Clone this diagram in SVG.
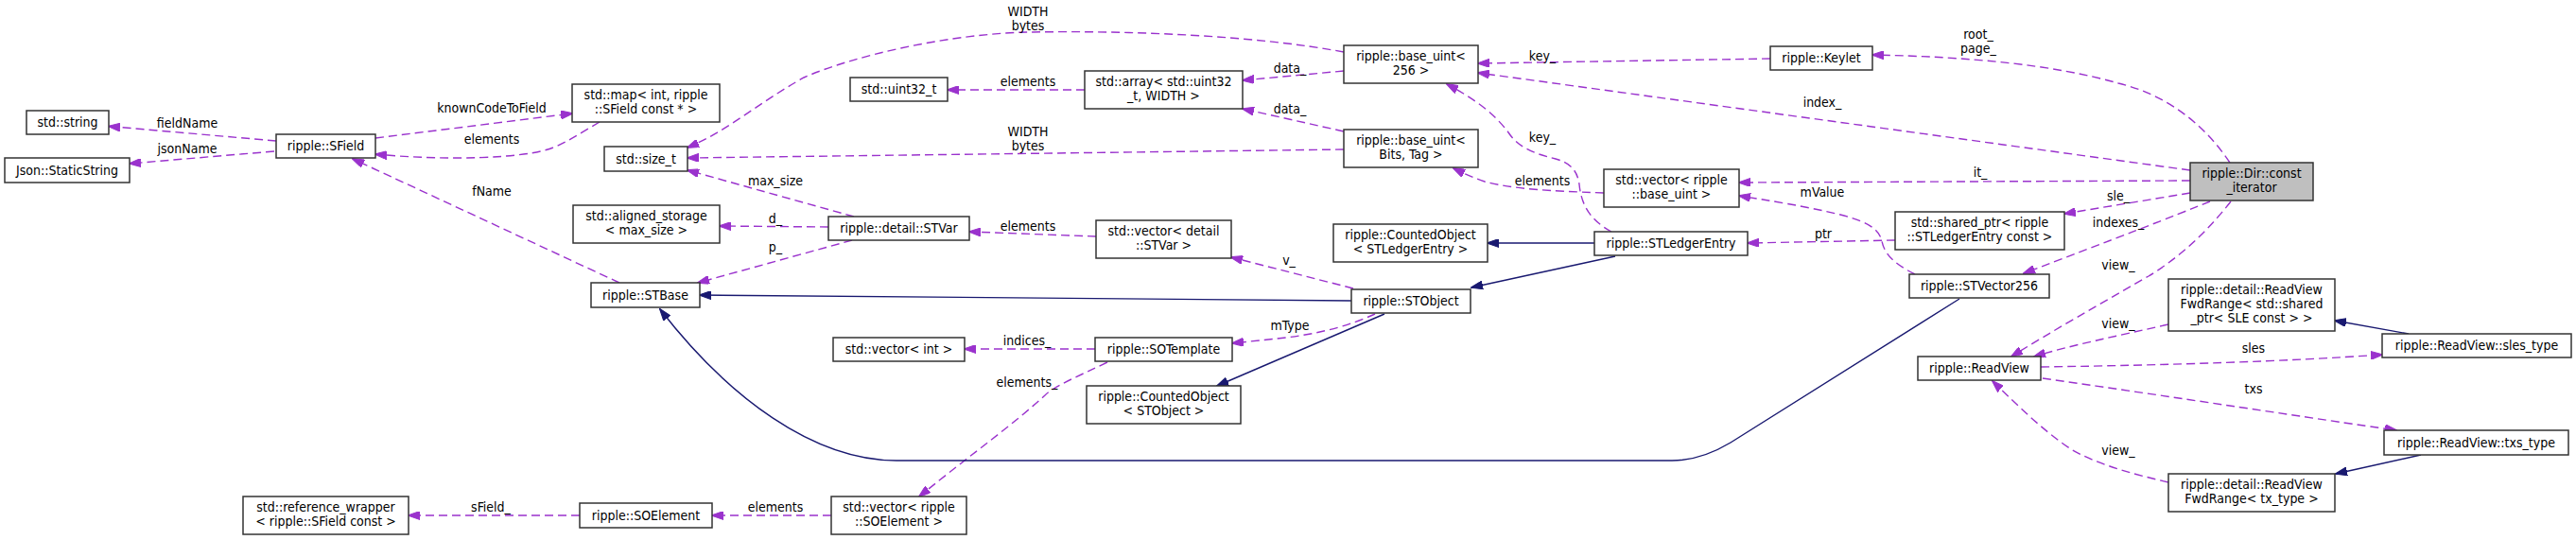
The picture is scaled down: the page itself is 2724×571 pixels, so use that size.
<svg xmlns="http://www.w3.org/2000/svg" width="2724" height="571" viewBox="0 0 2724 571">
<style>
text{font-family:'DejaVu Sans Condensed','Liberation Sans',sans-serif;font-size:14px;fill:#000;text-anchor:middle}
.box{fill:#fff;stroke:#333;stroke-width:1.5}
.root{fill:#bfbfbf;stroke:#333;stroke-width:1.5}
.u{fill:none;stroke:#9a32cd;stroke-width:1.4;stroke-dasharray:9,5;marker-end:url(#ap)}
.i{fill:none;stroke:#191970;stroke-width:1.4;marker-end:url(#ab)}
</style>
<defs>
<marker id="ap" viewBox="0 0 13 9" refX="12" refY="4.5" markerWidth="13" markerHeight="9" markerUnits="userSpaceOnUse" orient="auto"><path d="M0,0 L13,4.5 L0,9 z" fill="#9a32cd" stroke="#9a32cd" stroke-width="1"/></marker>
<marker id="ab" viewBox="0 0 13 9" refX="12" refY="4.5" markerWidth="13" markerHeight="9" markerUnits="userSpaceOnUse" orient="auto"><path d="M0,0 L13,4.5 L0,9 z" fill="#191970" stroke="#191970" stroke-width="1"/></marker>
</defs>
<rect x="0" y="0" width="2724" height="571" fill="#fff"/>
<g id="edges">
<path class="u" d="M292,149 L115,133.5"/><text x="198" y="134.5">fieldName</text>
<path class="u" d="M290,160 L137,173"/><text x="198" y="161.5">jsonName</text>
<path class="u" d="M397,146 L605,120"/><text x="520" y="118.5">knownCodeToField</text>
<path class="u" d="M634,129 C612,142 600,150 585,156 C555,168 470,170 397,163"/><text x="520" y="151.5">elements</text>
<path class="u" d="M655,299 L373,168"/><text x="520" y="206.5">fName</text>
<path class="u" d="M1421,55 C1330,38 1200,32 1087,34 C1000,36 900,60 850,82 C800,110 770,138 727,156"/><text x="1087" y="16.5">WIDTH</text><text x="1087" y="31.5">bytes</text>
<path class="u" d="M1421,158 L727,167"/><text x="1087" y="143.5">WIDTH</text><text x="1087" y="158.5">bytes</text>
<path class="u" d="M1147,95 L1002,95"/><text x="1087" y="91">elements</text>
<path class="u" d="M1421,75 L1314,85"/><text x="1364" y="76.5">data_</text>
<path class="u" d="M1421,139 L1314,115"/><text x="1364" y="119.5">data_</text>
<path class="u" d="M1872,62 L1563,67"/><text x="1631" y="63.5">key_</text>
<path class="u" d="M2358,172 C2330,130 2290,100 2240,88 C2170,68 2080,60 1980,58"/><text x="2092" y="40.5">root_</text><text x="2092" y="55.5">page_</text>
<path class="u" d="M2316,180 L1563,77"/><text x="1927" y="112.5">index_</text>
<path class="u" d="M2316,191 L1839,193"/><text x="2094" y="187">it_</text>
<path class="u" d="M1696,204 C1640,202 1600,200 1570,192 C1555,187 1545,182 1537,178"/><text x="1631" y="195.5">elements</text>
<path class="u" d="M1704,245 C1680,232 1672,215 1670,195 C1668,180 1660,172 1645,168 C1620,162 1605,155 1595,140 C1580,120 1560,105 1530,89"/><text x="1631" y="149.5">key_</text>
<path class="u" d="M2025,290 C2005,280 1993,270 1990,255 C1987,242 1975,235 1950,228 C1910,218 1870,212 1839,207"/><text x="1927" y="207.5">mValue</text>
<path class="u" d="M2004,254 L1848,257"/><text x="1928" y="251.5">ptr</text>
<path class="u" d="M2316,204 L2183,226"/><text x="2240" y="211.5">sle_</text>
<path class="u" d="M2337,213 C2300,228 2230,255 2140,289"/><text x="2240" y="239.5">indexes_</text>
<path class="u" d="M2359,213 C2330,250 2300,275 2272,292 C2220,322 2170,350 2127,377"/><text x="2240" y="284.5">view_</text>
<path class="u" d="M2293,343 C2240,355 2190,365 2151,377"/><text x="2240" y="347">view_</text>
<path class="u" d="M2158,388 C2300,386 2420,382 2519,375"/><text x="2383" y="373">sles</text>
<path class="u" d="M2160,400 C2300,420 2450,443 2534,455"/><text x="2383" y="416">txs</text>
<path class="u" d="M2293,510 C2250,500 2216,490 2190,475 C2160,455 2135,430 2107,403"/><text x="2240" y="481">view_</text>
<path class="i" d="M2547,353 L2469,339"/>
<path class="i" d="M2560,481 L2470,501"/>
<path class="i" d="M1686,257 L1573,257"/>
<path class="i" d="M1708,271 L1556,304"/>
<path class="i" d="M1429,318 L740,312"/>
<path class="i" d="M1464,332 L1287,408"/>
<path class="u" d="M1454,332 C1430,343 1400,352 1360,357 L1303,363"/><text x="1364" y="348.5">mType</text>
<path class="u" d="M1431,305 L1302,272"/><text x="1363" y="279.5">v_</text>
<path class="u" d="M1159,250 L1025,245"/><text x="1087" y="243.5">elements</text>
<path class="u" d="M903,229 L727,180"/><text x="820" y="195.5">max_size</text>
<path class="u" d="M876,240 L761,239"/><text x="820" y="235.5">d_</text>
<path class="u" d="M901,254 L738,299"/><text x="820" y="266">p_</text>
<path class="u" d="M1158,369 L1020,369"/><text x="1086" y="365">indices_</text>
<path class="u" d="M1171,383 C1140,398 1115,408 1105,418 C1070,450 1030,478 972,525"/><text x="1086" y="408.5">elements_</text>
<path class="u" d="M879,545 L753,545"/><text x="820" y="541">elements</text>
<path class="u" d="M613,545 L432,545"/><text x="519" y="541">sField_</text>
<path class="i" d="M2072,316 L1830,468 C1810,480 1790,487 1768,487 L948,487 C860,487 770,420 698,327"/>
</g>
<g id="n_string"><rect class="box" x="28" y="117" width="87" height="25"/><text x="71.5" y="134">std::string</text></g>
<g id="n_json"><rect class="box" x="5" y="167" width="132" height="26"/><text x="71" y="184.5">Json::StaticString</text></g>
<g id="n_sfield"><rect class="box" x="292" y="142" width="105" height="25"/><text x="344.5" y="159">ripple::SField</text></g>
<g id="n_map"><rect class="box" x="605" y="89" width="156" height="40"/><text x="683" y="105">std::map&lt; int, ripple</text><text x="683" y="120">::SField const * &gt;</text></g>
<g id="n_sizet"><rect class="box" x="639" y="155" width="88" height="26"/><text x="683" y="172.5">std::size_t</text></g>
<g id="n_aligned"><rect class="box" x="606" y="217" width="155" height="40"/><text x="683.5" y="233">std::aligned_storage</text><text x="683.5" y="248">&lt; max_size &gt;</text></g>
<g id="n_stbase"><rect class="box" x="625" y="299" width="115" height="26"/><text x="682.5" y="316.5">ripple::STBase</text></g>
<g id="n_refwrap"><rect class="box" x="257" y="525" width="175" height="40"/><text x="344.5" y="541">std::reference_wrapper</text><text x="344.5" y="556">&lt; ripple::SField const &gt;</text></g>
<g id="n_soelement"><rect class="box" x="613" y="532" width="140" height="26"/><text x="683" y="549.5">ripple::SOElement</text></g>
<g id="n_uint32"><rect class="box" x="899" y="82" width="103" height="25"/><text x="950.5" y="99">std::uint32_t</text></g>
<g id="n_array"><rect class="box" x="1147" y="75" width="167" height="40"/><text x="1230.5" y="91">std::array&lt; std::uint32</text><text x="1230.5" y="106">_t, WIDTH &gt;</text></g>
<g id="n_stvar"><rect class="box" x="876" y="229" width="149" height="25"/><text x="950.5" y="246">ripple::detail::STVar</text></g>
<g id="n_vecstvar"><rect class="box" x="1159" y="233" width="143" height="40"/><text x="1230.5" y="249">std::vector&lt; detail</text><text x="1230.5" y="264">::STVar &gt;</text></g>
<g id="n_vecint"><rect class="box" x="881" y="357" width="139" height="25"/><text x="950.5" y="374">std::vector&lt; int &gt;</text></g>
<g id="n_sotemplate"><rect class="box" x="1158" y="357" width="145" height="25"/><text x="1230.5" y="374">ripple::SOTemplate</text></g>
<g id="n_cntstobj"><rect class="box" x="1149" y="408" width="163" height="40"/><text x="1230.5" y="424">ripple::CountedObject</text><text x="1230.5" y="439">&lt; STObject &gt;</text></g>
<g id="n_vecsoel"><rect class="box" x="879" y="525" width="143" height="40"/><text x="950.5" y="541">std::vector&lt; ripple</text><text x="950.5" y="556">::SOElement &gt;</text></g>
<g id="n_bu256"><rect class="box" x="1421" y="48" width="142" height="40"/><text x="1492" y="64">ripple::base_uint&lt;</text><text x="1492" y="79">256 &gt;</text></g>
<g id="n_keylet"><rect class="box" x="1872" y="49" width="108" height="25"/><text x="1926" y="66">ripple::Keylet</text></g>
<g id="n_bubits"><rect class="box" x="1421" y="137" width="142" height="40"/><text x="1492" y="153">ripple::base_uint&lt;</text><text x="1492" y="168">Bits, Tag &gt;</text></g>
<g id="n_vecbu"><rect class="box" x="1696" y="179" width="143" height="40"/><text x="1767.5" y="195">std::vector&lt; ripple</text><text x="1767.5" y="210">::base_uint &gt;</text></g>
<g id="n_cntsle"><rect class="box" x="1410" y="237" width="163" height="40"/><text x="1491.5" y="253">ripple::CountedObject</text><text x="1491.5" y="268">&lt; STLedgerEntry &gt;</text></g>
<g id="n_sle"><rect class="box" x="1686" y="245" width="162" height="25"/><text x="1767" y="262">ripple::STLedgerEntry</text></g>
<g id="n_stobject"><rect class="box" x="1429" y="306" width="126" height="25"/><text x="1492" y="323">ripple::STObject</text></g>
<g id="n_stv256"><rect class="box" x="2019" y="290" width="148" height="25"/><text x="2093" y="307">ripple::STVector256</text></g>
<g id="n_readview"><rect class="box" x="2028" y="377" width="130" height="25"/><text x="2093" y="394">ripple::ReadView</text></g>
<g id="n_sharedptr"><rect class="box" x="2004" y="224" width="179" height="40"/><text x="2093.5" y="240">std::shared_ptr&lt; ripple</text><text x="2093.5" y="255">::STLedgerEntry const &gt;</text></g>
<g id="n_dir"><rect class="root" x="2316" y="172" width="130" height="40"/><text x="2381" y="188">ripple::Dir::const</text><text x="2381" y="203">_iterator</text></g>
<g id="n_fwdsle"><rect class="box" x="2293" y="295" width="176" height="55"/><text x="2381" y="311">ripple::detail::ReadView</text><text x="2381" y="326">FwdRange&lt; std::shared</text><text x="2381" y="341">_ptr&lt; SLE const &gt; &gt;</text></g>
<g id="n_slestype"><rect class="box" x="2519" y="353" width="200" height="25"/><text x="2619" y="370">ripple::ReadView::sles_type</text></g>
<g id="n_txstype"><rect class="box" x="2521" y="455" width="195" height="26"/><text x="2618.5" y="472.5">ripple::ReadView::txs_type</text></g>
<g id="n_fwdtx"><rect class="box" x="2293" y="501" width="176" height="40"/><text x="2381" y="517">ripple::detail::ReadView</text><text x="2381" y="532">FwdRange&lt; tx_type &gt;</text></g>
</svg>
